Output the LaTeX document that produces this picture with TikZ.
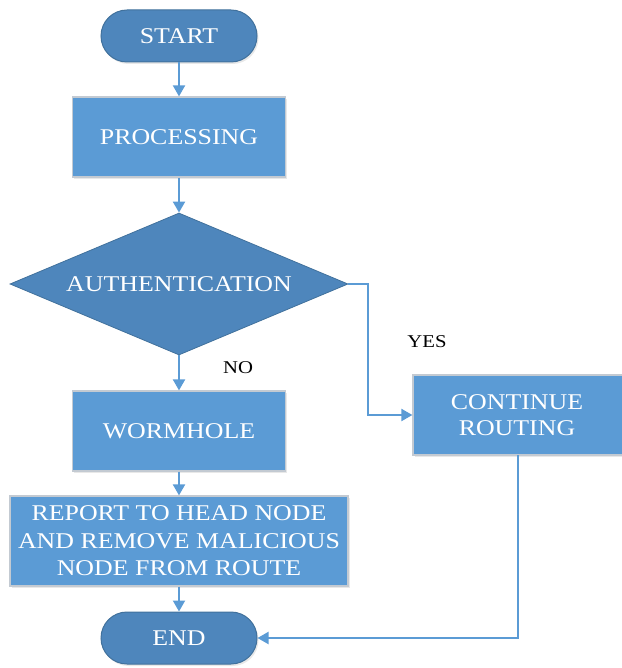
\documentclass[tikz,border=0pt]{standalone}
\usepackage{fontspec}
\setmainfont{Liberation Serif}[FakeStretch=1.15]
\usetikzlibrary{shapes.geometric,arrows.meta,shadows}
\definecolor{darkfill}{HTML}{4E86BC}
\definecolor{darkedge}{HTML}{41719C}
\definecolor{lightfill}{HTML}{5B9BD5}
\definecolor{boxedge}{HTML}{C3CAD2}
\definecolor{linecol}{HTML}{5B9BD5}
\begin{document}
\begin{tikzpicture}[x=1pt,y=-1pt,
 every node/.style={font=\fontsize{22.5}{27}\selectfont, text=white, align=center},
 softshadow/.style={drop shadow={shadow xshift=1.5pt, shadow yshift=-2pt, opacity=0.15, fill=black!60}},
 terminal/.style={draw=darkedge, fill=darkfill, line width=1pt, rounded corners=26pt, minimum width=156pt, minimum height=52pt, inner sep=0, softshadow},
 procbox/.style={draw=boxedge, fill=lightfill, line width=1.2pt, minimum width=213pt, minimum height=80pt, inner sep=0, softshadow},
 decision/.style={diamond, draw=darkedge, fill=darkfill, line width=0.8pt, aspect=2.38, minimum width=338pt, minimum height=142pt, inner sep=0},
 conn/.style={draw=linecol, line width=2pt, -{Triangle[length=11pt,width=12pt]}},
 lbl/.style={text=black, font=\fontsize{18}{20}\selectfont}]
\useasboundingbox (0,0) rectangle (621,668);
\node[terminal] (start) at (179,36) {START};
\node[procbox] (proc) at (179,137) {PROCESSING};
\node[decision] (auth) at (179,284) {AUTHENTICATION};
\node[procbox] (worm) at (179,431) {WORMHOLE};
\node[procbox, minimum width=338pt, minimum height=90pt, font=\fontsize{22.5}{27.5}\selectfont] (report) at (179,541) {REPORT TO HEAD NODE\\AND REMOVE MALICIOUS\\NODE FROM ROUTE};
\node[terminal] (end) at (179,638) {END};
\node[procbox, minimum width=226pt, font=\fontsize{22.5}{26}\selectfont] (cont) at (526,415) {CONTINUE\hspace*{18pt}\\ROUTING\hspace*{18pt}};
\node[lbl] (no) at (238,368) {NO};
\node[lbl] (yes) at (427,342) {YES};
\coordinate (contbot) at (518,455);
\draw[conn] (start) -- (proc);
\draw[conn] (proc) -- (auth);
\draw[conn] (auth) -- (worm);
\draw[conn] (worm) -- (report);
\draw[conn] (report) -- (end);
\draw[conn] (auth.east) -- ++(20,0) |- (cont.west);
\draw[conn] (contbot) |- (end.east);
\end{tikzpicture}
\end{document}
